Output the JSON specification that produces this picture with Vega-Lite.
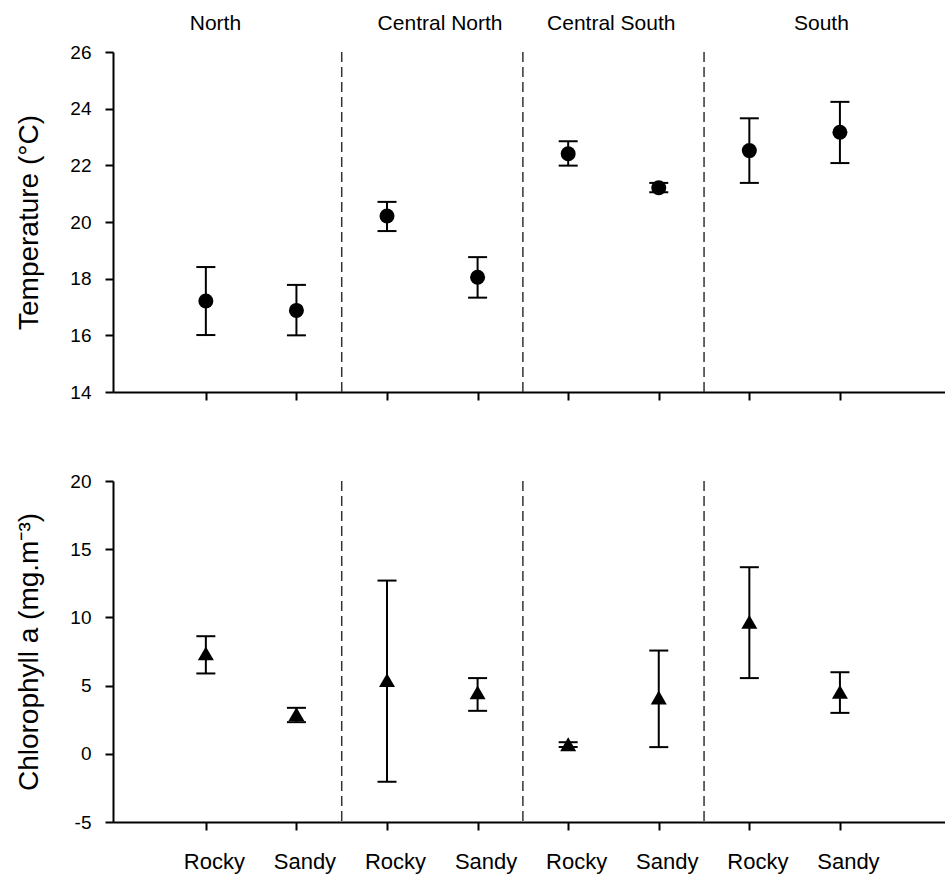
{
  "$schema": "https://vega.github.io/schema/vega-lite/v6.json",
  "background": "white",
  "padding": {"left": 15, "top": 12, "right": 0, "bottom": 5},
  "datasets": {
    "temp": [
      {"region": "North", "site": "Rocky", "pos": 1, "mean": 17.21, "lo": 16.01, "hi": 18.41},
      {"region": "North", "site": "Sandy", "pos": 2, "mean": 16.88, "lo": 16.0, "hi": 17.78},
      {"region": "Central North", "site": "Rocky", "pos": 3, "mean": 20.21, "lo": 19.68, "hi": 20.71},
      {"region": "Central North", "site": "Sandy", "pos": 4, "mean": 18.05, "lo": 17.33, "hi": 18.76},
      {"region": "Central South", "site": "Rocky", "pos": 5, "mean": 22.41, "lo": 21.99, "hi": 22.85},
      {"region": "Central South", "site": "Sandy", "pos": 6, "mean": 21.21, "lo": 21.05, "hi": 21.38},
      {"region": "South", "site": "Rocky", "pos": 7, "mean": 22.52, "lo": 21.38, "hi": 23.66},
      {"region": "South", "site": "Sandy", "pos": 8, "mean": 23.17, "lo": 22.08, "hi": 24.24}
    ],
    "chl": [
      {"region": "North", "site": "Rocky", "pos": 1, "mean": 7.36, "lo": 5.89, "hi": 8.62},
      {"region": "North", "site": "Sandy", "pos": 2, "mean": 2.91, "lo": 2.32, "hi": 3.37},
      {"region": "Central North", "site": "Rocky", "pos": 3, "mean": 5.4, "lo": -2.05, "hi": 12.7},
      {"region": "Central North", "site": "Sandy", "pos": 4, "mean": 4.5, "lo": 3.15, "hi": 5.55},
      {"region": "Central South", "site": "Rocky", "pos": 5, "mean": 0.7, "lo": 0.5, "hi": 0.85},
      {"region": "Central South", "site": "Sandy", "pos": 6, "mean": 4.13, "lo": 0.49, "hi": 7.57},
      {"region": "South", "site": "Rocky", "pos": 7, "mean": 9.67, "lo": 5.55, "hi": 13.68},
      {"region": "South", "site": "Sandy", "pos": 8, "mean": 4.54, "lo": 3.0, "hi": 5.98}
    ],
    "seps": [{"b": 2.5}, {"b": 4.5}, {"b": 6.5}]
  },
  "vconcat": [
    {
      "width": 832,
      "height": 340,
      "resolve": {"axis": {"x": "independent"}},
      "layer": [
        {
          "data": {"name": "seps"},
          "mark": {"type": "rule", "strokeDash": [10, 5], "strokeWidth": 1.5, "color": "#333333"},
          "encoding": {
            "x": {"field": "b", "type": "quantitative", "scale": {"domain": [-0.025, 9.16], "nice": false, "zero": false},
              "axis": {"orient": "top", "values": [1.1, 3.58, 5.47, 7.79], "domain": false, "ticks": false, "tickSize": 0, "title": null, "labelFontSize": 21, "labelPadding": 19,
                "labelExpr": "datum.value < 2 ? 'North' : datum.value < 4.5 ? 'Central North' : datum.value < 6.5 ? 'Central South' : 'South'"}}
          }
        },
        {
          "data": {"name": "temp"},
          "mark": {"type": "rule", "strokeWidth": 2, "color": "black"},
          "encoding": {
            "x": {"field": "pos", "type": "quantitative", "scale": {"domain": [-0.025, 9.16], "nice": false, "zero": false},
              "axis": {"orient": "bottom", "values": [1, 2, 3, 4, 5, 6, 7, 8], "labels": false, "title": null}},
            "y": {"field": "lo", "type": "quantitative", "scale": {"domain": [14, 26], "nice": false, "zero": false},
              "axis": {"values": [14, 16, 18, 20, 22, 24, 26], "title": "Temperature (°C)", "labelPadding": 14, "titlePadding": 26, "labelExpr": "'' + datum.value"}},
            "y2": {"field": "hi"}
          }
        },
        {
          "data": {"name": "temp"},
          "mark": {"type": "tick", "orient": "horizontal", "size": 19, "thickness": 2, "color": "black", "opacity": 1},
          "encoding": {
            "x": {"field": "pos", "type": "quantitative", "axis": null},
            "y": {"field": "lo", "type": "quantitative", "title": "Temperature (°C)"}
          }
        },
        {
          "data": {"name": "temp"},
          "mark": {"type": "tick", "orient": "horizontal", "size": 19, "thickness": 2, "color": "black", "opacity": 1},
          "encoding": {
            "x": {"field": "pos", "type": "quantitative", "axis": null},
            "y": {"field": "hi", "type": "quantitative", "title": "Temperature (°C)"}
          }
        },
        {
          "data": {"name": "temp"},
          "mark": {"type": "point", "shape": "circle", "filled": true, "size": 225, "color": "black", "opacity": 1},
          "encoding": {
            "x": {"field": "pos", "type": "quantitative", "axis": null},
            "y": {"field": "mean", "type": "quantitative", "title": "Temperature (°C)"}
          }
        }
      ]
    },
    {
      "width": 832,
      "height": 341,
      "layer": [
        {
          "data": {"name": "seps"},
          "mark": {"type": "rule", "strokeDash": [10, 5], "strokeWidth": 1.5, "color": "#333333"},
          "encoding": {
            "x": {"field": "b", "type": "quantitative", "scale": {"domain": [-0.025, 9.16], "nice": false, "zero": false},
              "axis": {"orient": "bottom", "values": [1, 2, 3, 4, 5, 6, 7, 8], "title": null, "labelFontSize": 22, "labelPadding": 21, "labelOffset": 8,
                "labelExpr": "datum.value % 2 == 1 ? 'Rocky' : 'Sandy'"}}
          }
        },
        {
          "data": {"name": "chl"},
          "mark": {"type": "rule", "strokeWidth": 2, "color": "black"},
          "encoding": {
            "x": {"field": "pos", "type": "quantitative"},
            "y": {"field": "lo", "type": "quantitative", "scale": {"domain": [-5, 20], "nice": false, "zero": false},
              "axis": {"values": [-5, 0, 5, 10, 15, 20], "title": "Chlorophyll a (mg.m⁻³)", "labelPadding": 14, "titlePadding": 26, "labelExpr": "'' + datum.value"}},
            "y2": {"field": "hi"}
          }
        },
        {
          "data": {"name": "chl"},
          "mark": {"type": "tick", "orient": "horizontal", "size": 19, "thickness": 2, "color": "black", "opacity": 1},
          "encoding": {
            "x": {"field": "pos", "type": "quantitative"},
            "y": {"field": "lo", "type": "quantitative", "title": "Chlorophyll a (mg.m⁻³)"}
          }
        },
        {
          "data": {"name": "chl"},
          "mark": {"type": "tick", "orient": "horizontal", "size": 19, "thickness": 2, "color": "black", "opacity": 1},
          "encoding": {
            "x": {"field": "pos", "type": "quantitative"},
            "y": {"field": "hi", "type": "quantitative", "title": "Chlorophyll a (mg.m⁻³)"}
          }
        },
        {
          "data": {"name": "chl"},
          "mark": {"type": "point", "shape": "triangle-up", "filled": true, "size": 256, "color": "black", "opacity": 1},
          "encoding": {
            "x": {"field": "pos", "type": "quantitative"},
            "y": {"field": "mean", "type": "quantitative", "title": "Chlorophyll a (mg.m⁻³)"}
          }
        }
      ]
    }
  ],
  "spacing": 89,
  "bounds": "flush",
  "config": {
    "font": "Liberation Sans",
    "view": {"stroke": null},
    "axis": {
      "grid": false,
      "domainColor": "black",
      "domainWidth": 2,
      "tickColor": "black",
      "tickWidth": 2,
      "tickSize": 8,
      "labelColor": "black",
      "titleColor": "black",
      "labelFont": "Liberation Sans",
      "titleFont": "Liberation Sans",
      "labelFontSize": 19,
      "titleFontSize": 28,
      "titleFontWeight": "normal"
    }
  }
}
